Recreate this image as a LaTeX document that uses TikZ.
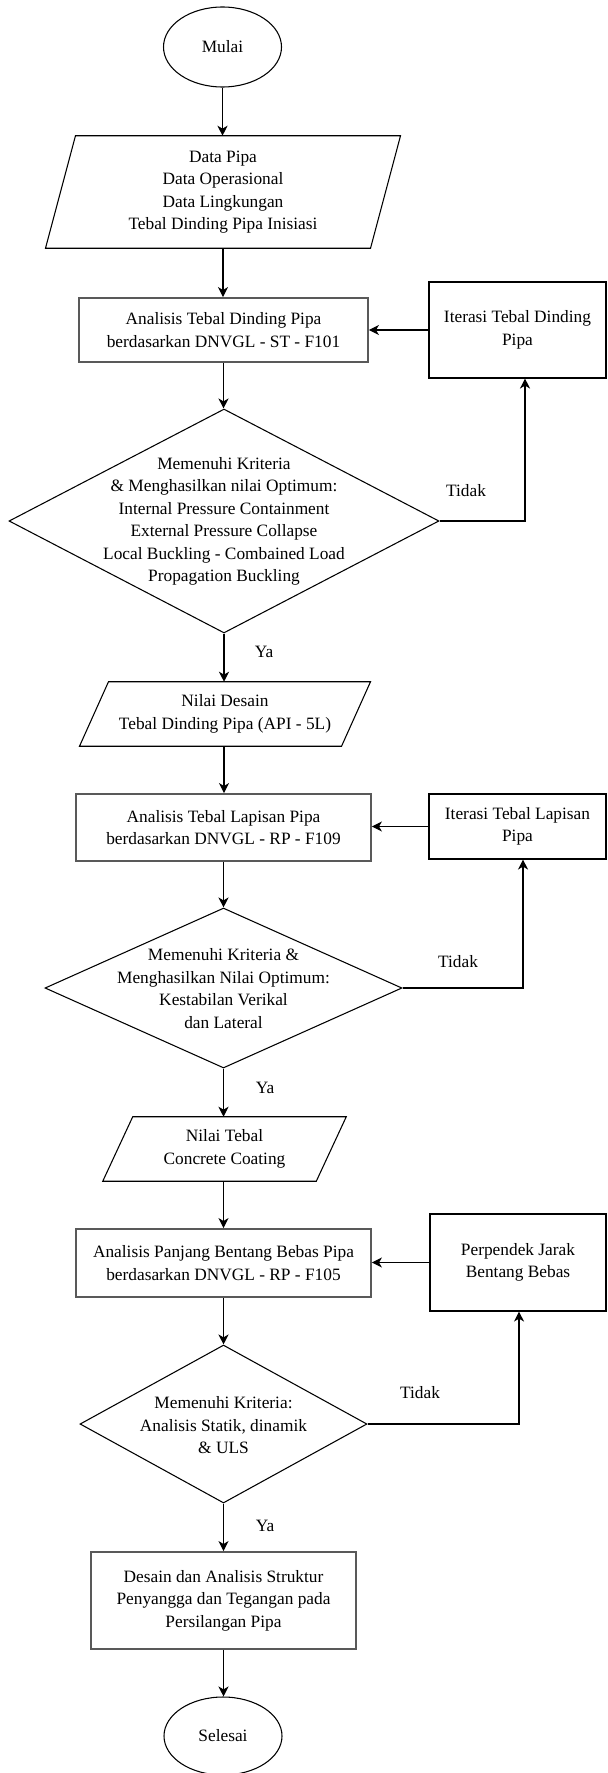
\documentclass[tikz,border=0pt]{standalone}
\usepackage{fontspec}
\setmainfont{Liberation Serif}
\usetikzlibrary{shapes.geometric,arrows.meta,calc}
\newdimen\pu \pu=0.75pt
\begin{document}
\begin{tikzpicture}[x=0.75pt,y=-0.75pt,
  base/.style={font=\fontsize{13}{16.9}\selectfont, align=center, inner sep=0pt},
  procbox/.style={base, rectangle, draw=black!65, line width=1.4pt},
  iterbox/.style={base, rectangle, draw=black, line width=0.8pt},
  term/.style={base, ellipse, draw=black, line width=0.8pt},
  decide/.style={diamond, draw=black, line width=0.8pt, inner sep=0pt},
  iobox/.style={base, rectangle},
  ioline/.style={draw=black, line width=0.8pt, line join=miter},
  arr/.style={-{Stealth[length=7.5pt,width=7.5pt,inset=2.2pt]}, line width=0.85pt},
  lbl/.style={font=\fontsize{13}{16.9}\selectfont, inner sep=0pt}
]
\useasboundingbox (0,0) rectangle (607,1773);

% nodes
\node[term, minimum width=118\pu, minimum height=80\pu] (mulai) at (222.5,47) {Mulai};
\node[iobox, minimum width=324.5\pu, minimum height=112\pu] (p1) at (223,192)
  {Data Pipa\\Data Operasional\\Data Lingkungan\\Tebal Dinding Pipa Inisiasi};
\node[procbox, minimum width=289\pu, minimum height=64\pu] (a1) at (223.5,330)
  {Analisis Tebal Dinding Pipa\\berdasarkan DNVGL - ST - F101};
\node[iterbox, minimum width=177\pu, minimum height=96\pu] (it1) at (517.5,330)
  {Iterasi Tebal Dinding\\Pipa};
\node[decide, minimum width=430\pu, minimum height=224\pu] (dec1) at (224,521) {};
\node[base] (dec1t) at (224,521.5)
  {Memenuhi Kriteria\\\& Menghasilkan nilai Optimum:\\Internal Pressure Containment\\External Pressure Collapse\\Local Buckling - Combained Load\\Propagation Buckling};

\node[iobox, minimum width=261.5\pu, minimum height=64\pu] (p2) at (225,714)
  {Nilai Desain\\Tebal Dinding Pipa (API - 5L)};
\node[procbox, minimum width=295\pu, minimum height=67\pu] (a2) at (223.5,827.5)
  {Analisis Tebal Lapisan Pipa\\berdasarkan DNVGL - RP - F109};
\node[iterbox, minimum width=177\pu, minimum height=65\pu] (it2) at (517.5,826.5)
  {Iterasi Tebal Lapisan\\Pipa};
\node[decide, minimum width=357\pu, minimum height=160\pu] (dec2) at (223.5,988) {};
\node[base] (dec2t) at (223.5,988.5)
  {Memenuhi Kriteria \&\\Menghasilkan Nilai Optimum:\\Kestabilan Verikal\\dan Lateral};

\node[iobox, minimum width=213\pu, minimum height=64\pu] (p3) at (224.5,1149)
  {Nilai Tebal\\Concrete Coating};
\node[procbox, minimum width=295\pu, minimum height=68\pu] (a3) at (223.5,1263)
  {Analisis Panjang Bentang Bebas Pipa\\berdasarkan DNVGL - RP - F105};
\node[iterbox, minimum width=176\pu, minimum height=97\pu] (it3) at (518,1262.5)
  {Perpendek Jarak\\Bentang Bebas};
\node[decide, minimum width=287\pu, minimum height=158\pu] (dec3) at (223.5,1424) {};
\node[base] (dec3t) at (223.5,1425.5)
  {Memenuhi Kriteria:\\Analisis Statik, dinamik\\\& ULS};

\node[procbox, minimum width=265\pu, minimum height=97\pu] (a4) at (223.5,1600.5)
  {Desain dan Analisis Struktur\\Penyangga dan Tegangan pada\\Persilangan Pipa};
\node[term, minimum width=118\pu, minimum height=78\pu] (selesai) at (223,1736) {Selesai};

% parallelograms
\draw[ioline] ($(p1.north west)+(15,0)$) -- ($(p1.north east)+(15,0)$) -- ($(p1.south east)+(-15,0)$) -- ($(p1.south west)+(-15,0)$) -- cycle;
\draw[ioline] ($(p2.north west)+(14.5,0)$) -- ($(p2.north east)+(14.5,0)$) -- ($(p2.south east)+(-14.5,0)$) -- ($(p2.south west)+(-14.5,0)$) -- cycle;
\draw[ioline] ($(p3.north west)+(15,0)$) -- ($(p3.north east)+(15,0)$) -- ($(p3.south east)+(-15,0)$) -- ($(p3.south west)+(-15,0)$) -- cycle;

% labels
\node[lbl] (t1) at (466,491) {Tidak};
\node[lbl] (y1) at (264,652) {Ya};
\node[lbl] (t2) at (458,962) {Tidak};
\node[lbl] (y2) at (265,1088) {Ya};
\node[lbl] (t3) at (420,1393) {Tidak};
\node[lbl] (y3) at (265,1526) {Ya};

% main flow
\draw[arr] (mulai.south) -- (mulai.south |- p1.north);
\draw[arr] (p1.south) -- (p1.south |- a1.north);
\draw[arr] (a1.south) -- (a1.south |- dec1.north);
\draw[arr] (dec1.south) -- (dec1.south |- p2.north);
\draw[arr] (dec1.south |- p2.south) -- (dec1.south |- a2.north);
\draw[arr] (a2.south) -- (a2.south |- dec2.north);
\draw[arr] (dec2.south) -- (dec2.south |- p3.north);
\draw[arr] (dec2.south |- p3.south) -- (dec2.south |- a3.north);
\draw[arr] (a3.south) -- (a3.south |- dec3.north);
\draw[arr] (dec3.south) -- (dec3.south |- a4.north);
\draw[arr] (a4.south) -- (a4.south |- selesai.north);

% loops
\draw[arr] (dec1.east) -- ($(dec1.east -| it1.south)+(7.5,0)$) -- ($(it1.south)+(7.5,0)$);
\draw[arr] (it1.west) -- (it1.west -| a1.east);
\draw[arr] (dec2.east) -- ($(dec2.east -| it2.south)+(5.5,0)$) -- ($(it2.south)+(5.5,0)$);
\draw[arr] (it2.west) -- (it2.west -| a2.east);
\draw[arr] (dec3.east) -- ($(dec3.east -| it3.south)+(1,0)$) -- ($(it3.south)+(1,0)$);
\draw[arr] (it3.west) -- (it3.west -| a3.east);
\end{tikzpicture}
\end{document}
